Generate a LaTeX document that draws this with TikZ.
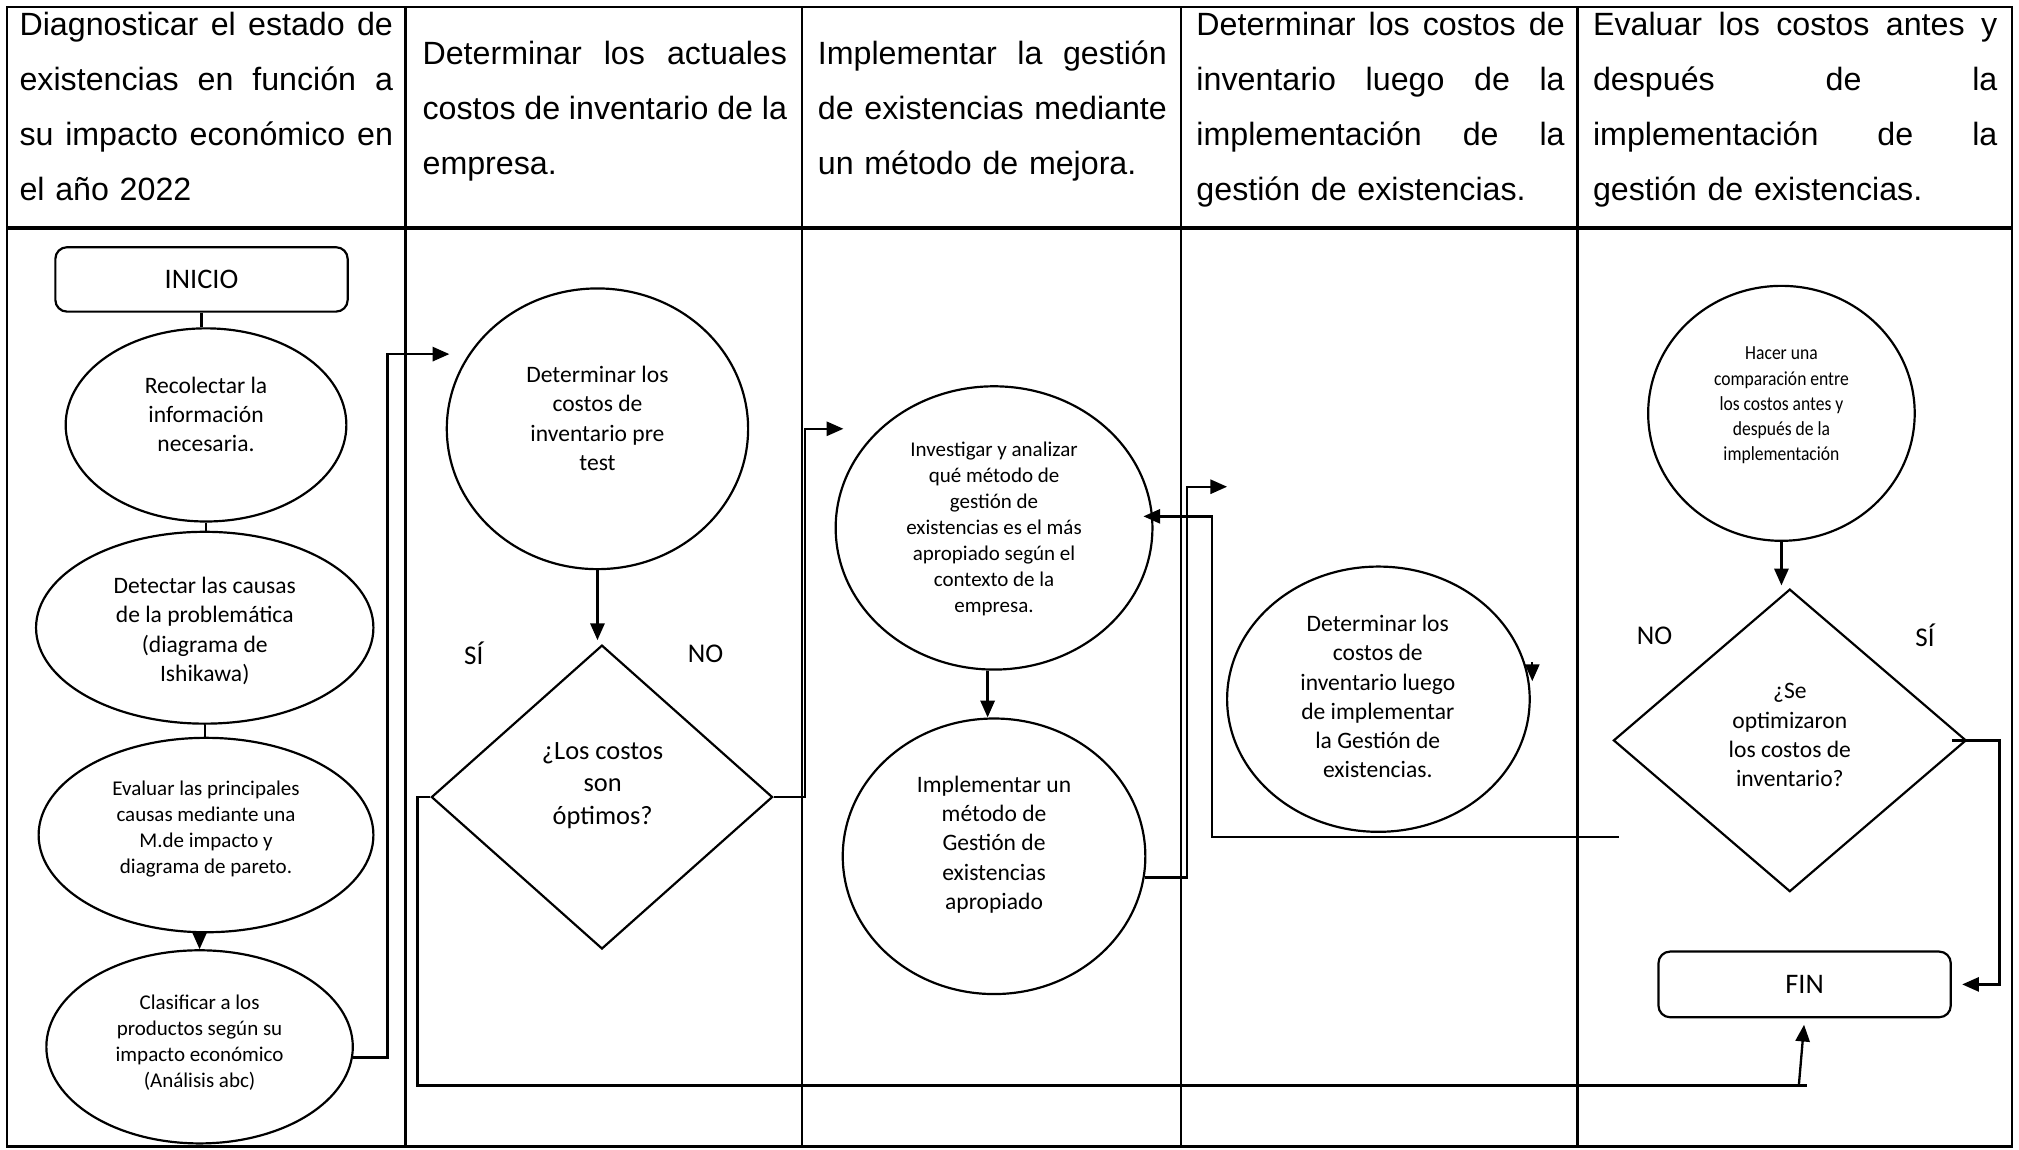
\documentclass[tikz,border=0pt]{standalone}
\usepackage{fontspec}
\setmainfont{Carlito}
\newfontfamily\hdrfont{Liberation Sans}
\newfontfamily\narrowfont{Carlito}[FakeStretch=0.88]
\usetikzlibrary{shapes.geometric,arrows.meta}
\newcommand\jline[1]{\hbox to \hsize{\spaceskip=0.278em plus 1fil minus 0.05em #1}\par}
\begin{document}
\begin{tikzpicture}[x=1pt,y=-1pt,
  shp/.style={draw, line width=1.7pt, inner sep=0pt},
  ell/.style={shp, ellipse},
  dia/.style={shp, diamond},
  term/.style={shp, rectangle, rounded corners=9pt, font=\fontsize{22}{26}\selectfont},
  txta/.style={align=center, inner sep=0pt, font=\fontsize{18.3}{22.7}\selectfont},
  txtb/.style={align=center, inner sep=0pt, font=\fontsize{16.3}{20.2}\selectfont},
  txtc/.style={align=center, inner sep=0pt, font=\fontsize{20.5}{25.3}\selectfont},
  txtn/.style={align=center, inner sep=0pt, font=\narrowfont\fontsize{15.5}{19.6}\selectfont},
  lbl/.style={inner sep=0pt, font=\fontsize{21}{25}\selectfont},
  hdr/.style={anchor=base west, inner sep=0pt, align=left, font=\hdrfont\fontsize{25}{42.8}\selectfont},
  conn/.style={line width=1.8pt},
  arr/.style={conn, -{Triangle[length=13pt,width=11pt]}},
  tbl/.style={line width=1.8pt}]
\useasboundingbox (0,0) rectangle (1568,892.4);
% table
\draw[tbl] (5.5,5.5) rectangle (1562.5,890.5);
\draw[line width=2.5pt] (5.5,177) -- (1562.5,177);
\foreach \xx in {315,623,917,1225} \draw[tbl] (\xx,5.5) -- (\xx,890.5);
% headers
\node[hdr, text width=290pt] (h1) at (15,27.5) {\jline{Diagnosticar el estado de}\jline{existencias en función a}\jline{su impacto económico en}el año 2022};
\node[hdr, text width=283pt] (h2) at (328,50) {\jline{Determinar los actuales}\jline{costos de inventario de la}empresa.};
\node[hdr, text width=271pt] (h3) at (635,50) {\jline{Implementar la gestión}\jline{de existencias mediante}un método de mejora.};
\node[hdr, text width=286pt] (h4) at (929,27.5) {\jline{Determinar los costos de}\jline{inventario luego de la}\jline{implementación de la}gestión de existencias.};
\node[hdr, text width=314pt] (h5) at (1237,27.5) {\jline{Evaluar los costos antes y}\jline{después de la}\jline{implementación de la}gestión de existencias.};
% column 1
\node[term, minimum width=227pt, minimum height=50pt] (ini) at (156.5,217) {INICIO};
\node[ell, minimum width=218pt, minimum height=150pt] (rec) at (160,330) {};
\node[txta] (trec) at (160,322) {Recolectar la\\información\\necesaria.};
\node[ell, minimum width=262pt, minimum height=149pt] (det) at (159,487.5) {};
\node[txta] (tdet) at (159,490) {Detectar las causas\\de la problemática\\(diagrama de\\Ishikawa)};
\node[ell, minimum width=260pt, minimum height=151pt] (eva) at (160,648.5) {};
\node[txtb] (teva) at (160,644) {Evaluar las principales\\causas mediante una\\M.de impacto y\\diagrama de pareto.};
\node[ell, minimum width=238pt, minimum height=150pt] (cla) at (155,813) {};
\node[txtb] (tcla) at (155,809.5) {Clasificar a los\\productos según su\\impacto económico\\(Análisis abc)};
% column 2
\node[ell, minimum width=234pt, minimum height=218pt] (det2) at (464,333) {};
\node[txta] (tdet2) at (464,325) {Determinar los\\costos de\\inventario pre\\test};
\node[dia, minimum width=265pt, minimum height=236pt] (dia1) at (467.5,619) {};
\node[txtc] (tdia1) at (468,610) {¿Los costos\\son\\óptimos?};
\node[lbl] (si1) at (368,507) {SÍ};
\node[lbl] (no1) at (548,508) {NO};
% column 3
\node[ell, minimum width=246pt, minimum height=220pt] (inv) at (772,410) {};
\node[txtb] (tinv) at (772,411) {Investigar y analizar\\qué método de\\gestión de\\existencias es el más\\apropiado según el\\contexto de la\\empresa.};
\node[ell, minimum width=235pt, minimum height=214pt] (impl) at (772,665) {};
\node[txta] (timpl) at (772,656) {Implementar un\\método de\\Gestión de\\existencias\\apropiado};
% column 4
\node[ell, minimum width=235pt, minimum height=206pt] (post) at (1070.5,543) {};
\node[txta] (tpost) at (1070,541) {Determinar los\\costos de\\inventario luego\\de implementar\\la Gestión de\\existencias.};
% column 5
\node[ell, minimum width=207pt, minimum height=198pt] (hacer) at (1383.5,321) {};
\node[txtn] (thacer) at (1383.5,315) {Hacer una\\comparación entre\\los costos antes y\\después de la\\implementación};
\node[dia, minimum width=274pt, minimum height=235pt] (dia2) at (1390,575) {};
\node[txta] (tdia2) at (1390,571) {¿Se\\optimizaron\\los costos de\\inventario?};
\node[lbl] (no2) at (1285,494) {NO};
\node[lbl] (si2) at (1495,493) {SÍ};
\node[term, minimum width=227pt, minimum height=51pt] (fin) at (1401.5,764.5) {FIN};
% coordinates
\coordinate (a1) at (349,275);
\coordinate (k1) at (301,275);
\coordinate (a2) at (655,333);
\coordinate (k2) at (625,333);
\coordinate (a3) at (953,378);
\coordinate (k3) at (922,378);
\coordinate (a4) at (888,401);
\coordinate (k4) at (941,401);
\coordinate (b1) at (1257,650);
\coordinate (f1) at (1397,843);
\coordinate (f2) at (1403,843);
\coordinate (t1) at (1190,514);
\coordinate (t2) at (1190,529);
% connectors column 1
\draw[conn] (ini.south) -- (ini.south |- rec.north);
\draw[conn] (rec.south) -- (rec.south |- det.north);
\draw[conn] (det.south) -- (det.south |- eva.north);
\draw[arr] (eva.south -| cla.north) -- (cla.north);
\draw[arr] (cla.-4) -| (k1) -- (a1);
% column 2
\draw[arr, shorten >=3pt] (det2.south) -- (det2.south |- dia1.north);
\draw[arr] (dia1.east) -| (k2) -- (a2);
\draw[conn] (dia1.west) -- ++(-10,0) |- (f2);
\draw[arr, shorten >=5pt] (f1) -- (fin.south);
% column 3
\draw[arr] ([xshift=-5pt]inv.south) -- ([xshift=-5pt]inv.south |- impl.north);
\draw[arr] (impl.-8) -| (k3) -- (a3);
% column 4 / 5
\draw[arr] (t1) -- (t2);
\draw[arr] (b1) -| (k4) -- (a4);
\draw[arr, shorten >=2pt] (hacer.south) -- (hacer.south |- dia2.north);
\draw[arr, shorten >=8pt] ([xshift=-12pt]dia2.east) -- ++(37,0) |- (fin.east);
\end{tikzpicture}
\end{document}
